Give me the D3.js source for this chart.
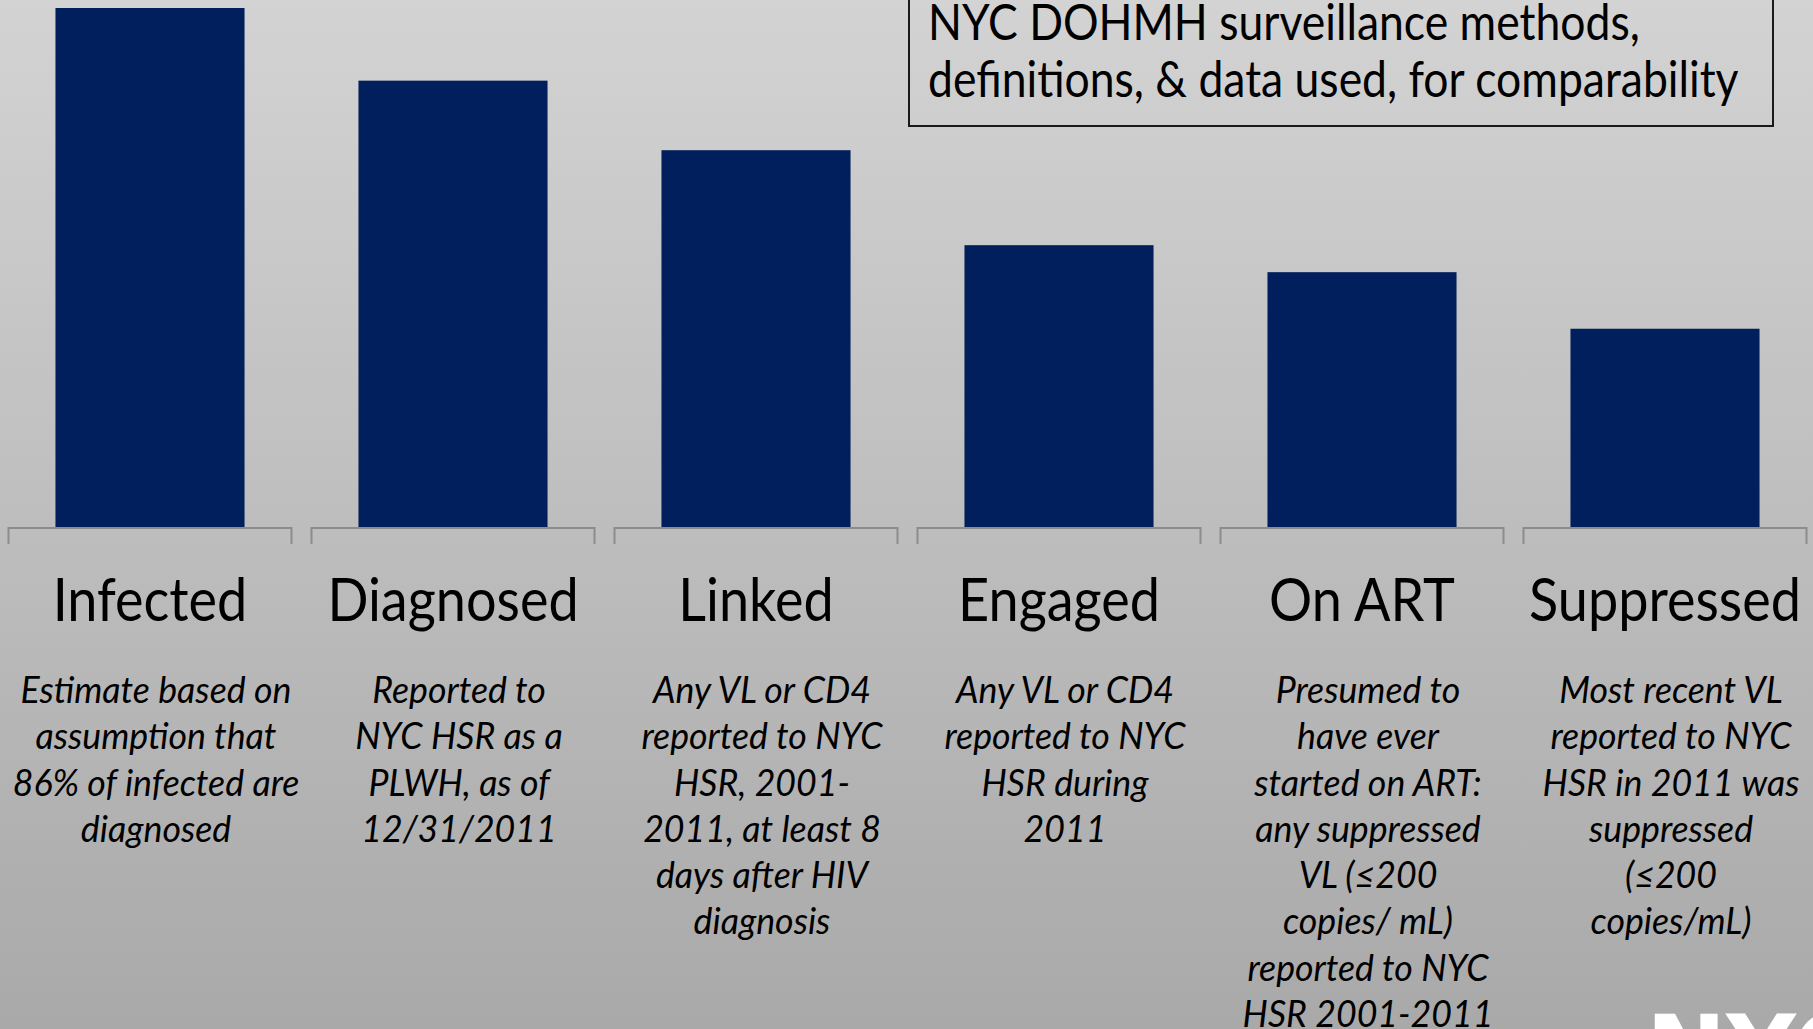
<!DOCTYPE html>
<html>
<head>
<meta charset="utf-8">
<script src="https://cdn.jsdelivr.net/npm/d3@7"></script>
<style>
  html, body { margin: 0; padding: 0; overflow: hidden; }
  svg { display: block; }
</style>
</head>
<body>
<script>
// ---- data ----
const categories = ["Infected", "Diagnosed", "Linked", "Engaged", "On ART", "Suppressed"];
// relative size of each step of the cascade (% of estimated infected)
const values = [100, 86, 72.6, 54.3, 49.1, 38.2];
const descriptions = [
  ["Estimate based on", "assumption that", "86% of infected are", "diagnosed"],
  ["Reported to", "NYC HSR as a", "PLWH, as of", "12/31/2011"],
  ["Any VL or CD4", "reported to NYC", "HSR, 2001-", "2011, at least 8", "days after HIV", "diagnosis"],
  ["Any VL or CD4", "reported to NYC", "HSR during", "2011"],
  ["Presumed to", "have ever", "started on ART:", "any suppressed", "VL (≤200", "copies/ mL)", "reported to NYC", "HSR 2001-2011"],
  ["Most recent VL", "reported to NYC", "HSR in 2011 was", "suppressed", "(≤200", "copies/mL)"]
];
const boxTitle = ["NYC DOHMH surveillance methods,", "definitions, & data used, for comparability"];
const logoText = "NYC";

// ---- layout ----
const W = 1813, H = 1029;
const FONT = "Lato, 'Open Sans', sans-serif";
const svg = d3.select("body").append("svg").attr("width", W).attr("height", H);

const defs = svg.append("defs");
const grad = defs.append("linearGradient").attr("id", "bg").attr("x1", 0).attr("y1", 0).attr("x2", 0).attr("y2", 1);
grad.append("stop").attr("offset", "0%").attr("stop-color", "#d3d3d3");
grad.append("stop").attr("offset", "100%").attr("stop-color", "#a9a9a9");
svg.append("rect").attr("width", W).attr("height", H).attr("fill", "url(#bg)");

const x = d3.scaleBand().domain(categories).range([-1.5, 1816.5]).paddingInner(0.376).paddingOuter(0.188);
const y = d3.scaleLinear().domain([0, 100]).range([527, 8]);
const cx = c => x(c) + x.bandwidth() / 2;

// bars
svg.append("g").selectAll("rect").data(categories).join("rect")
  .attr("x", d => x(d))
  .attr("y", (d, i) => y(values[i]))
  .attr("width", x.bandwidth())
  .attr("height", (d, i) => y(0) - y(values[i]))
  .attr("fill", "#001f5c");

// brackets under each bar
const half = 141.5;
svg.append("g").selectAll("path").data(categories).join("path")
  .attr("d", d => `M${cx(d) - half},${y(0) + 17}V${y(0) + 1}H${cx(d) + half}V${y(0) + 17}`)
  .attr("fill", "none")
  .attr("stroke", "#8c8c8c")
  .attr("stroke-width", 2);

// category labels
svg.append("g").selectAll("g").data(categories).join("g")
  .attr("transform", d => `translate(${cx(d)},621) scale(0.9,1)`)
  .append("text")
  .attr("text-anchor", "middle")
  .attr("font-family", FONT)
  .attr("font-size", 60)
  .attr("fill", "#000")
  .text(d => d);

// descriptions
const descG = svg.append("g").selectAll("g").data(categories).join("g");
descG.each(function(d, i) {
  d3.select(this).selectAll("g").data(descriptions[i]).join("g")
    .attr("transform", (t, j) => `translate(${cx(d) + 6},${703 + j * 46.25}) scale(0.965,1)`)
    .append("text")
    .attr("text-anchor", "middle")
    .attr("font-family", FONT)
    .attr("font-style", "italic")
    .attr("font-size", 37)
    .attr("fill", "#000")
    .text(t => t);
});

// note box
svg.append("rect")
  .attr("x", 909).attr("y", -4)
  .attr("width", 864).attr("height", 130)
  .attr("fill", "none").attr("stroke", "#1a1a1a").attr("stroke-width", 2);
svg.append("g").selectAll("g").data(boxTitle).join("g")
  .attr("transform", (t, j) => `translate(928,${40 + j * 56.5}) scale(0.89,1)`)
  .append("text")
  .attr("font-family", FONT)
  .attr("font-size", 50)
  .attr("fill", "#000")
  .text(t => t);

// partially visible logo at bottom-right
svg.append("text")
  .attr("x", 1646).attr("y", 1084)
  .attr("font-family", "'DejaVu Sans', sans-serif")
  .attr("font-weight", "bold")
  .attr("font-size", 96)
  .attr("fill", "#fff")
  .text(logoText);
</script>
</body>
</html>
